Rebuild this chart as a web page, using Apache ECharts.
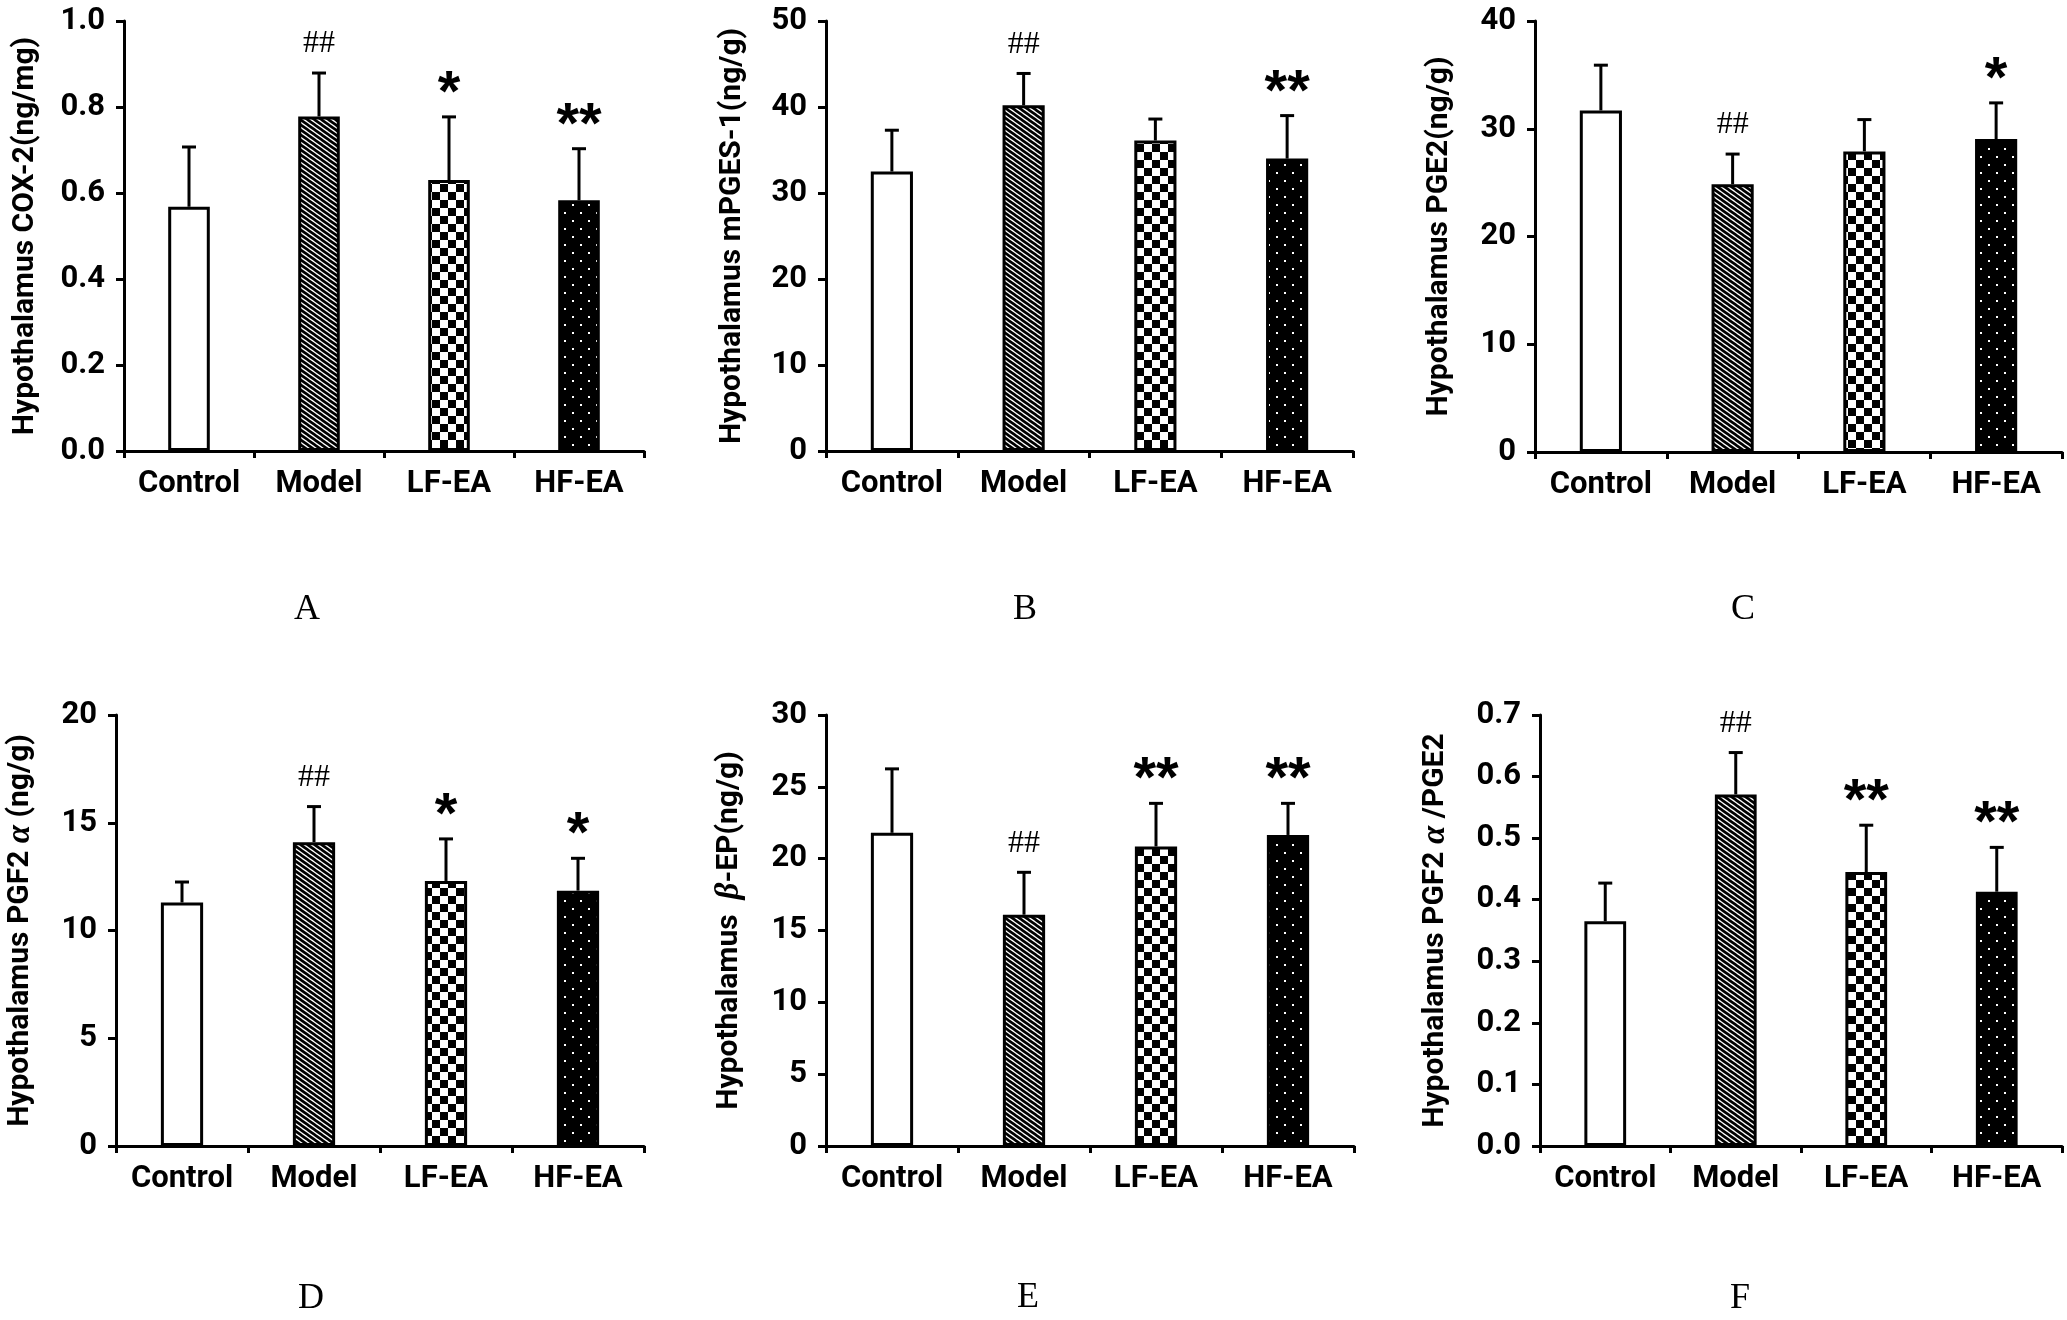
<!DOCTYPE html>
<html lang="en">
<head>
<meta charset="UTF-8">
<title>Hypothalamus</title>
<script src="https://cdn.jsdelivr.net/npm/echarts@6.0.0/dist/echarts.min.js"></script>
<style>
    html, body { margin: 0; padding: 0; background: #fff; }
    #main { width: 2067px; height: 1320px; }
</style>
</head>
<body>
<div id="main"></div>
<script>
    // groups
    var categories = ['Control', 'Model', 'LF-EA', 'HF-EA'];

    // A  COX-2
    var cox2Mean = [0.568, 0.778, 0.630, 0.583];
    var cox2Sd   = [0.139, 0.101, 0.147, 0.120];
    var cox2Mark = ['', '##', '*', '**'];
    // B  mPGES-1
    var mpgesMean = [32.5, 40.2, 36.1, 34.0];
    var mpgesSd   = [4.8, 3.7, 2.5, 5.0];
    var mpgesMark = ['', '##', '', '**'];
    // C  PGE2
    var pge2Mean = [31.7, 24.85, 27.9, 29.05];
    var pge2Sd   = [4.2, 2.8, 2.95, 3.35];
    var pge2Mark = ['', '##', '', '*'];
    // D  PGF2a
    var pgf2aMean = [11.3, 14.1, 12.3, 11.85];
    var pgf2aSd   = [0.95, 1.65, 1.95, 1.5];
    var pgf2aMark = ['', '##', '*', '*'];
    // E  beta-EP
    var bepMean = [21.8, 16.1, 20.85, 21.65];
    var bepSd   = [4.45, 2.95, 3.0, 2.2];
    var bepMark = ['', '##', '**', '**'];
    // F  PGF2a / PGE2
    var ratioMean = [0.365, 0.571, 0.445, 0.413];
    var ratioSd   = [0.062, 0.068, 0.076, 0.072];
    var ratioMark = ['', '##', '**', '**'];

    var SANS = "Roboto, 'Liberation Sans', sans-serif";
    var SERIF = "'Liberation Serif', 'DejaVu Serif', serif";

    var panels = [
        {letter: 'A', mean: cox2Mean, sd: cox2Sd, mark: cox2Mark, max: 1, interval: 0.2, digits: 1,
         name: 'Hypothalamus COX-2(ng/mg)', nameGap: 84,
         grid: {left: 124, top: 21, width: 520, height: 430}, letterPos: [307, 610]},
        {letter: 'B', mean: mpgesMean, sd: mpgesSd, mark: mpgesMark, max: 50, interval: 10, digits: 0,
         name: 'Hypothalamus mPGES-1(ng/g)', nameGap: 79,
         grid: {left: 826, top: 21, width: 527, height: 430}, letterPos: [1025, 610]},
        {letter: 'C', mean: pge2Mean, sd: pge2Sd, mark: pge2Mark, max: 40, interval: 10, digits: 0,
         name: 'Hypothalamus PGE2(ng/g)', nameGap: 81,
         grid: {left: 1535, top: 21, width: 527, height: 431}, letterPos: [1743, 610]},
        {letter: 'D', mean: pgf2aMean, sd: pgf2aSd, mark: pgf2aMark, max: 20, interval: 5, digits: 0,
         name: '{n|Hypothalamus PGF2 }{i|α}{n| (ng/g)}', nameGap: 79,
         grid: {left: 116, top: 715, width: 528, height: 431}, letterPos: [311, 1299]},
        {letter: 'E', mean: bepMean, sd: bepSd, mark: bepMark, max: 30, interval: 5, digits: 0,
         name: '{n|Hypothalamus  }{i|β}{n|-EP(ng/g)}', nameGap: 80,
         grid: {left: 826, top: 715, width: 528, height: 431}, letterPos: [1028, 1298]},
        {letter: 'F', mean: ratioMean, sd: ratioSd, mark: ratioMark, max: 0.7, interval: 0.1, digits: 1,
         name: '{n|Hypothalamus PGF2 }{i|α}{n| /PGE2}', nameGap: 88,
         grid: {left: 1540, top: 715, width: 522, height: 431}, letterPos: [1740, 1299]}
    ];

    // fill patterns
    function makeTile(w, h, draw) {
        var c = document.createElement('canvas');
        c.width = w; c.height = h;
        draw(c.getContext('2d'), w, h);
        return {image: c, repeat: 'repeat'};
    }
    var stripes = makeTile(7, 5, function (ctx, w, h) {
        ctx.fillStyle = '#fff'; ctx.fillRect(0, 0, w, h);
        ctx.strokeStyle = '#000'; ctx.lineWidth = 2.7;
        [-w, 0, w].forEach(function (k) {
            ctx.beginPath();
            ctx.moveTo(k - w * 0.2, -h * 0.2);
            ctx.lineTo(k + w * 1.2, h * 1.2);
            ctx.stroke();
        });
    });
    var checker = makeTile(16, 16, function (ctx, w, h) {
        ctx.fillStyle = '#fff'; ctx.fillRect(0, 0, w, h);
        ctx.fillStyle = '#000';
        ctx.fillRect(0, 0, 8, 8);
        ctx.fillRect(8, 8, 8, 8);
    });
    var dots = makeTile(16, 16, function (ctx, w, h) {
        ctx.fillStyle = '#000'; ctx.fillRect(0, 0, w, h);
        ctx.fillStyle = '#fff';
        ctx.fillRect(4, 4, 2, 2);
        ctx.fillRect(12, 12, 2, 2);
    });
    var fills = ['#fff', stripes, checker, dots];

    var myChart = echarts.init(document.getElementById('main'), null, {renderer: 'canvas'});

    var grids = [], xAxes = [], yAxes = [], series = [], graphics = [];
    var axisLineStyle = {color: '#000', width: 3};

    panels.forEach(function (p, i) {
        grids.push({left: p.grid.left, top: p.grid.top, width: p.grid.width, height: p.grid.height,
                    containLabel: false, outerBoundsMode: 'none'});
        xAxes.push({
            type: 'category', gridIndex: i, data: categories,
            axisLine: {lineStyle: axisLineStyle},
            axisTick: {show: true, interval: 0, length: 7, lineStyle: axisLineStyle},
            axisLabel: {interval: 0, margin: 18, color: '#000', fontFamily: SANS, fontWeight: 'bold', fontSize: 31},
            splitLine: {show: false}
        });
        yAxes.push({
            type: 'value', gridIndex: i, min: 0, max: p.max, interval: p.interval,
            axisLine: {show: true, lineStyle: axisLineStyle},
            axisTick: {show: true, length: 8, lineStyle: axisLineStyle},
            axisLabel: {margin: 19, color: '#000', fontFamily: SANS, fontWeight: 'bold', fontSize: 31,
                        formatter: function (v) { return v.toFixed(p.digits); }},
            splitLine: {show: false},
            name: p.name, nameLocation: 'middle', nameGap: p.nameGap,
            nameTextStyle: {
                color: '#000', fontFamily: SANS, fontWeight: 'bold', fontSize: 30,
                rich: {
                    n: {color: '#000', fontFamily: SANS, fontWeight: 'bold', fontSize: 30},
                    i: {color: '#000', fontFamily: SERIF, fontStyle: 'italic', fontSize: 33}
                }
            }
        });
        series.push({
            type: 'bar', xAxisIndex: i, yAxisIndex: i, barWidth: '32%',
            itemStyle: {borderColor: '#000', borderWidth: 3},
            data: p.mean.map(function (v, j) {
                return {value: v, itemStyle: {color: fills[j]}};
            }),
            silent: true
        });
        series.push({
            type: 'custom', xAxisIndex: i, yAxisIndex: i, z: 5, silent: true,
            data: p.mean.map(function (v, j) { return [j, v, v + p.sd[j]]; }),
            encode: {x: 0, y: [1, 2]},
            renderItem: function (params, api) {
                var j = api.value(0);
                var base = api.coord([j, api.value(1)]);
                var top = api.coord([j, api.value(2)]);
                var line = {stroke: '#000', lineWidth: 3};
                var kids = [
                    {type: 'line', shape: {x1: base[0], y1: base[1], x2: top[0], y2: top[1]}, style: line},
                    {type: 'line', shape: {x1: top[0] - 7, y1: top[1], x2: top[0] + 7, y2: top[1]}, style: line}
                ];
                var m = p.mark[params.dataIndex];
                if (m) {
                    var hash = m.charAt(0) === '#';
                    kids.push({
                        type: 'text', x: top[0], y: top[1] - (hash ? 29 : 22),
                        style: {
                            text: m, fill: '#000', align: 'center', verticalAlign: 'middle',
                            textAlign: 'center', textVerticalAlign: 'middle',
                            fontFamily: hash ? SERIF : "'Liberation Sans', sans-serif",
                            fontWeight: hash ? 'normal' : 'bold',
                            fontSize: hash ? 32 : 58
                        }
                    });
                }
                return {type: 'group', children: kids};
            }
        });
        graphics.push({
            type: 'text', x: p.letterPos[0], y: p.letterPos[1], silent: true,
            style: {text: p.letter, fill: '#000', fontFamily: SERIF, fontSize: 36,
                    align: 'center', verticalAlign: 'middle', textAlign: 'center', textVerticalAlign: 'middle'}
        });
    });

    var option = {
        animation: false,
        backgroundColor: '#fff',
        grid: grids,
        xAxis: xAxes,
        yAxis: yAxes,
        series: series,
        graphic: graphics
    };
    myChart.setOption(option);
</script>
</body>
</html>
